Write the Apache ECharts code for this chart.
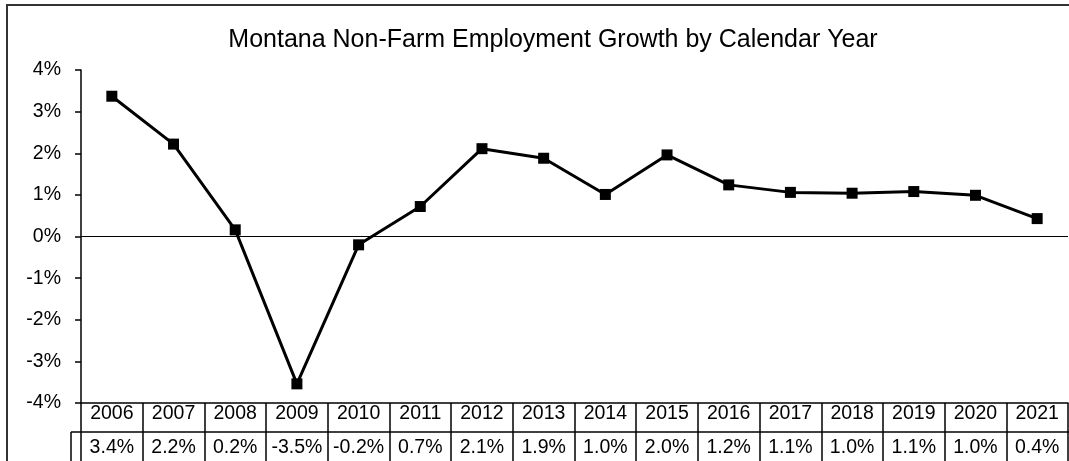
<!DOCTYPE html>
<html>
<head>
<meta charset="utf-8">
<script src="https://cdn.jsdelivr.net/npm/echarts@6/dist/echarts.min.js"></script>
<style>
html,body{margin:0;padding:0;background:#fff;}
#chart{width:1069px;height:461px;}
</style>
</head>
<body>
<div id="chart"></div>
<script>
const years = ['2006','2007','2008','2009','2010','2011','2012','2013','2014','2015','2016','2017','2018','2019','2020','2021'];
const growth = [3.37, 2.22, 0.16, -3.54, -0.20, 0.72, 2.11, 1.88, 1.01, 1.96, 1.24, 1.06, 1.04, 1.08, 0.99, 0.43];
const yTicks = { min: -4, max: 4, interval: 1 };
const titleText = 'Montana Non-Farm Employment Growth by Calendar Year';

const tableLabels = growth.map(v => v.toFixed(1) + '%');
const FONT = '"Liberation Sans", Arial, sans-serif';

const chart = echarts.init(document.getElementById('chart'), null, { renderer: 'canvas' });
const GRID = { left: 81, right: 1, top: 70, bottom: 58 };

chart.setOption({
  animation: false,
  backgroundColor: '#fff',
  title: {
    text: titleText,
    left: 548, top: 23, textAlign: 'center',
    textStyle: { fontFamily: FONT, fontSize: 25, fontWeight: 'normal', color: '#000' }
  },
  grid: GRID,
  xAxis: [{
    type: 'category',
    data: years,
    boundaryGap: true,
    axisLine: { show: true, onZero: false, lineStyle: { color: '#000', width: 1.5 } },
    axisTick: { show: true, alignWithLabel: false, interval: 0, length: 60, lineStyle: { color: '#000', width: 1.5 } },
    axisLabel: { interval: 0, hideOverlap: false, margin: 1, fontFamily: FONT, fontSize: 19.5, color: '#000' },
    splitLine: { show: false }
  }, {
    type: 'category',
    data: tableLabels,
    position: 'bottom',
    offset: 29,
    boundaryGap: true,
    axisLine: { show: false },
    axisTick: { show: false },
    axisLabel: { interval: 0, hideOverlap: false, margin: 6, fontFamily: FONT, fontSize: 19.5, color: '#000' }
  }],
  yAxis: {
    type: 'value',
    min: yTicks.min, max: yTicks.max, interval: yTicks.interval,
    axisLine: { show: true, lineStyle: { color: '#000', width: 1.5 } },
    axisTick: { show: true, length: 6, lineStyle: { color: '#000', width: 1.5 } },
    axisLabel: { margin: 20, fontFamily: FONT, fontSize: 19.5, color: '#000', formatter: '{value}%' },
    splitLine: { show: false }
  },
  series: [{
    type: 'line',
    xAxisIndex: 0,
    data: growth,
    symbol: 'rect',
    symbolSize: 11,
    lineStyle: { color: '#000', width: 3 },
    itemStyle: { color: '#000' },
    markLine: {
      silent: true,
      symbol: ['none', 'none'],
      label: { show: false },
      lineStyle: { color: '#000', width: 1.2, type: 'solid' },
      data: [{ yAxis: 0 }]
    }
  }],
  graphic: [
    { type: 'rect', shape: { x: 7, y: 5, width: 1100, height: 500 }, style: { fill: 'none', stroke: '#333', lineWidth: 2 }, silent: true },
    { type: 'line', shape: { x1: 71, y1: 432, x2: 1069, y2: 432 }, style: { stroke: '#000', lineWidth: 1.5 }, silent: true },
    { type: 'line', shape: { x1: 71, y1: 432, x2: 71, y2: 461 }, style: { stroke: '#000', lineWidth: 1.5 }, silent: true }
  ]
});
</script>
</body>
</html>
